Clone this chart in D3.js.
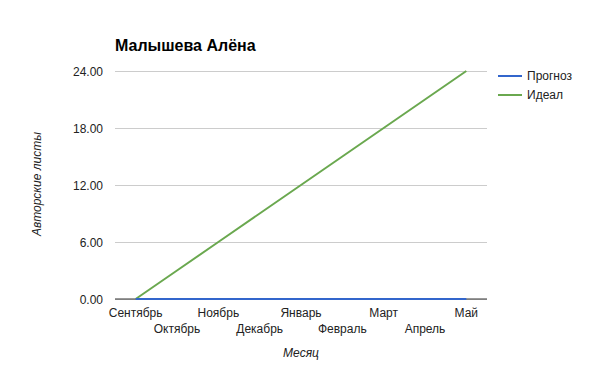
<!DOCTYPE html>
<html>
<head>
<meta charset="utf-8">
<script src="https://cdn.jsdelivr.net/npm/d3@7"></script>
<style>
  body { margin: 0; background: #fff; }
  text { font-family: Arial, "Liberation Sans", sans-serif; }
</style>
</head>
<body>
<svg id="chart" width="600" height="371"></svg>
<script>
// data
var months = ["Сентябрь", "Октябрь", "Ноябрь", "Декабрь", "Январь", "Февраль", "Март", "Апрель", "Май"];
var prognoz = [0, 0, 0, 0, 0, 0, 0, 0, 0];
var ideal = [0, 3, 6, 9, 12, 15, 18, 21, 24];
var yTicks = [0, 6, 12, 18, 24];
var seriesNames = ["Прогноз", "Идеал"];
var colors = ["#3366cc", "#6aa84f"];

var svg = d3.select("#chart");
var plotL = 115, plotR = 487, plotT = 71, plotB = 299;

var x = d3.scalePoint().domain(months).range([plotL, plotR]).padding(0.5);
var y = d3.scaleLinear().domain([0, 24]).range([plotB, plotT]);

// title
svg.append("text")
   .attr("x", 115).attr("y", 51)
   .style("font-size", "16px").style("font-weight", "bold")
   .text("Малышева Алёна");

// grid
var yAxis = svg.append("g")
   .attr("transform", "translate(" + plotL + ",0)")
   .call(d3.axisLeft(y).tickValues(yTicks).tickSize(-(plotR - plotL)).tickPadding(12)
         .tickFormat(function(d) { return d3.format(".2f")(d); }));
yAxis.select(".domain").remove();
yAxis.selectAll(".tick line").attr("stroke", "#cccccc");
yAxis.selectAll(".tick text")
   .style("font-size", "12px").attr("fill", "#222").attr("dy", "0.35em");

// baseline
svg.append("line")
   .attr("x1", plotL).attr("x2", plotR)
   .attr("y1", y(0)).attr("y2", y(0))
   .attr("stroke", "#333");

// lines
var line = d3.line()
   .x(function(d, i) { return x(months[i]); })
   .y(function(d) { return y(d); });

[ideal, prognoz].forEach(function(s, k) {
  var idx = k == 0 ? 1 : 0;
  svg.append("path")
     .datum(s)
     .attr("d", line)
     .attr("fill", "none")
     .attr("stroke", colors[idx])
     .attr("stroke-width", 2);
});

// x labels, alternating rows
svg.selectAll(".xlab")
   .data(months)
   .enter().append("text")
   .attr("class", "xlab")
   .attr("x", function(d) { return x(d); })
   .attr("y", function(d, i) { return i % 2 == 0 ? 317 : 333; })
   .attr("text-anchor", "middle")
   .style("font-size", "12px").attr("fill", "#222")
   .text(function(d) { return d; });

// axis titles
svg.append("text")
   .attr("x", 301).attr("y", 357)
   .attr("text-anchor", "middle")
   .style("font-size", "12px").style("font-style", "italic").attr("fill", "#222")
   .text("Месяц");

svg.append("text")
   .attr("transform", "translate(41,184) rotate(-90)")
   .attr("text-anchor", "middle")
   .style("font-size", "12px").style("font-style", "italic").attr("fill", "#222")
   .text("Авторские листы");

// legend
var lg = svg.selectAll(".lg")
   .data(seriesNames)
   .enter().append("g")
   .attr("class", "lg")
   .attr("transform", function(d, i) { return "translate(498," + (76 + i * 19) + ")"; });
lg.append("line")
   .attr("x1", 0).attr("x2", 24)
   .attr("stroke", function(d, i) { return colors[i]; })
   .attr("stroke-width", 2);
lg.append("text")
   .attr("x", 29).attr("dy", "0.35em")
   .style("font-size", "12px").attr("fill", "#222")
   .text(function(d) { return d; });
</script>
</body>
</html>
